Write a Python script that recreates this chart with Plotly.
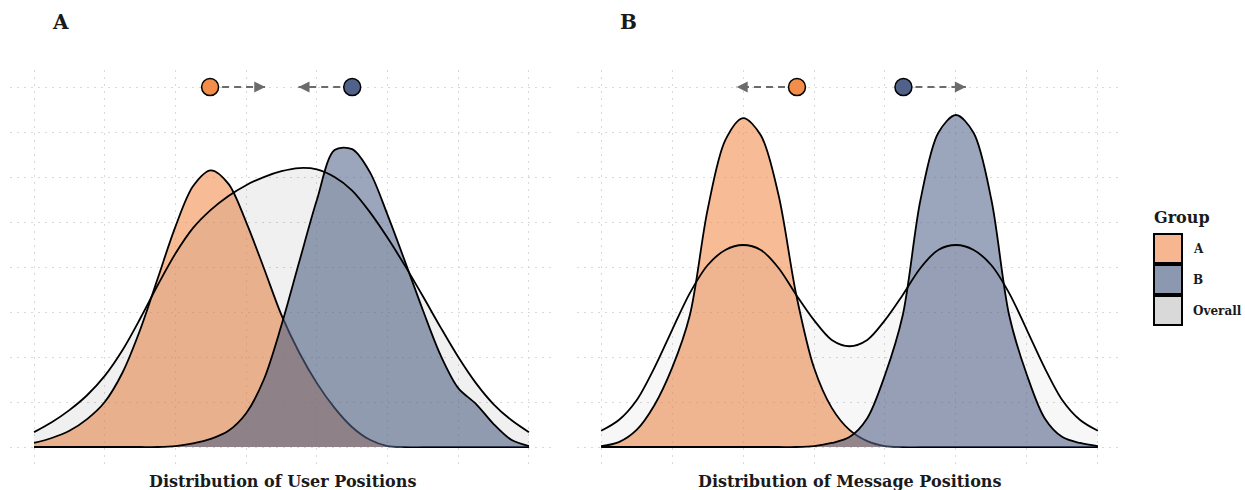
import plotly.graph_objects as go

# ---------------- data (grid units) ----------------
x_pos = [0.0, 0.25, 0.5, 0.75, 1.0, 1.25, 1.5, 1.75, 2.0, 2.25, 2.5, 2.75, 3.0, 3.25,
         3.5, 3.75, 4.0, 4.25, 4.5, 4.75, 5.0, 5.25, 5.5, 5.75, 6.0, 6.25, 6.5, 6.75, 7.0]

# Panel A: Distribution of User Positions
a_overall = [0.33, 0.55, 0.82, 1.15, 1.58, 2.15, 2.85, 3.6, 4.3, 4.87, 5.27, 5.58, 5.82, 6.0,
             6.13, 6.2, 6.17, 6.0, 5.7, 5.22, 4.65, 4.02, 3.35, 2.66, 2.0, 1.42, 0.95, 0.6, 0.33]
a_group_a = [0.09, 0.2, 0.36, 0.62, 1.0, 1.65, 2.6, 3.75, 4.9, 5.8, 6.15, 5.85, 5.0, 3.98,
             2.93, 2.1, 1.42, 0.87, 0.44, 0.16, 0.02, 0, 0, 0, 0, 0, 0, 0, 0]
a_group_b = [0, 0, 0, 0, 0, 0, 0, 0, 0.02, 0.08, 0.18, 0.36, 0.75, 1.5,
             2.71, 4.11, 5.49, 6.6, 6.62, 6.11, 5.16, 4.11, 3.04, 2.04, 1.31, 0.96, 0.51, 0.16, 0.02]

# Panel B: Distribution of Message Positions
b_overall = [0.36, 0.6, 1.04, 1.76, 2.6, 3.42, 4.04, 4.38, 4.49, 4.38, 3.98, 3.38, 2.82, 2.38,
             2.24, 2.38, 2.82, 3.38, 3.98, 4.38, 4.49, 4.38, 4.04, 3.42, 2.6, 1.76, 1.04, 0.6, 0.36]
b_group_a = [0.02, 0.11, 0.38, 0.93, 1.76, 2.93, 5.27, 6.82, 7.31, 6.93, 5.6, 3.38, 1.76, 0.87,
             0.38, 0.13, 0.02, 0, 0, 0, 0, 0, 0, 0, 0, 0, 0, 0, 0]
b_group_b = [0, 0, 0, 0, 0, 0, 0, 0, 0, 0, 0, 0, 0.02, 0.09,
             0.22, 0.64, 1.6, 2.93, 5.49, 6.98, 7.38, 6.98, 5.49, 2.93, 1.6, 0.64, 0.22, 0.09, 0.02]

# group means (circles) and shift direction (arrow tips)
marker_level = 8
a_means = {"A": 2.49, "B": 4.50}
a_targets = {"A": 3.27, "B": 3.74}
b_means = {"A": 2.76, "B": 4.26}
b_targets = {"A": 1.91, "B": 5.14}

x_ticks = [0, 1, 2, 3, 4, 5, 6, 7]
y_ticks = [0, 1, 2, 3, 4, 5, 6, 7, 8]

panel_titles = ["Distribution of User Positions", "Distribution of Message Positions"]
panel_letters = ["A", "B"]
legend_title = "Group"
legend_labels = ["A", "B", "Overall"]

# ---------------- styles ----------------
W, H = 1245, 490
ML, MR, MT, MB = 10, 123, 70, 25
PW, PH = W - ML - MR, H - MT - MB
FONT = "DejaVu Serif"
TXT = "#1a1a1a"

def fx(p):
    return (p - ML) / PW

def fy(p):
    return (H - MB - p) / PH

marker_col = {"A": "#F28E49", "B": "#506289"}
group_fill = {"A": "rgba(242,142,80,0.6)", "B": "rgba(89,105,142,0.6)"}
overall_fill = {"A": "rgba(0,0,0,0.06)", "B": "rgba(0,0,0,0.03)"}
legend_fill = ["#F6B68F", "#8C98AF", "#D9D9D9"]
arrow_col = "#6B6B6B"

fig = go.Figure()

panels = [
    ("A", "x", "y", a_overall, a_group_a, a_group_b, a_means, a_targets),
    ("B", "x2", "y2", b_overall, b_group_a, b_group_b, b_means, b_targets),
]

annotations = []
for key, xa, ya, ov, ga, gb, means, targets in panels:
    for name, vals, fc in (("A", ga, group_fill["A"]), ("B", gb, group_fill["B"]),
                           ("Overall", ov, overall_fill[key])):
        fig.add_trace(go.Scatter(
            x=x_pos, y=vals, xaxis=xa, yaxis=ya, mode="lines",
            fill="tozeroy", fillcolor=fc,
            line=dict(color="black", width=1.8, shape="spline", smoothing=0.9),
            showlegend=False, hoverinfo="skip"))
    for g in ("A", "B"):
        fig.add_trace(go.Scatter(
            x=[means[g], targets[g]], y=[marker_level, marker_level], xaxis=xa, yaxis=ya,
            mode="lines", line=dict(color=arrow_col, width=2, dash="7px,5px"),
            showlegend=False, hoverinfo="skip"))
        d = 0.14 if targets[g] > means[g] else -0.14
        annotations.append(dict(
            x=targets[g], y=marker_level, ax=targets[g] - d, ay=marker_level,
            xref=xa, yref=ya, axref=xa, ayref=ya, text="", showarrow=True,
            arrowhead=2, arrowsize=1.1, arrowwidth=2, arrowcolor=arrow_col, standoff=0))
    for g in ("A", "B"):
        fig.add_trace(go.Scatter(
            x=[means[g]], y=[marker_level], xaxis=xa, yaxis=ya, mode="markers",
            marker=dict(size=17, color=marker_col[g], line=dict(color="black", width=1.5)),
            showlegend=False, hoverinfo="skip"))

def txt(px, py, text, size, anchor="center"):
    return dict(x=fx(px), y=fy(py), xref="paper", yref="paper", text=f"<b>{text}</b>",
                xanchor=anchor, yanchor="middle", showarrow=False,
                font=dict(family=FONT, size=size, color=TXT))

annotations += [
    txt(282, 481, panel_titles[0], 16),
    txt(850, 481, panel_titles[1], 16),
    txt(60, 22, panel_letters[0], 20),
    txt(628, 22, panel_letters[1], 20),
    txt(1152, 217, legend_title, 16, "left"),
]

shapes = []
box_tops = [234, 265, 296]
for i, lab in enumerate(legend_labels):
    t = box_tops[i]
    shapes.append(dict(type="rect", xref="paper", yref="paper",
                       x0=fx(1154), x1=fx(1182), y0=fy(t + 29), y1=fy(t),
                       fillcolor=legend_fill[i], line=dict(color="black", width=2)))
    annotations.append(txt(1191, t + 15, lab, 12, "left"))

axis_common = dict(showticklabels=False, ticks="", showline=False, zeroline=False,
                   showgrid=True, gridcolor="#d9d9d9", gridwidth=1, griddash="2px,5px")
dA = [0, 543 / PW]
dB = [567 / PW, 1]
fig.update_layout(
    width=W, height=H,
    margin=dict(l=ML, r=MR, t=MT, b=MB),
    paper_bgcolor="white", plot_bgcolor="white",
    xaxis=dict(domain=dA, range=[-0.34, 7.34], tickvals=x_ticks, **axis_common),
    yaxis=dict(domain=[0, 1], range=[-0.4, 8.38], tickvals=y_ticks, **axis_common),
    xaxis2=dict(domain=dB, range=[-0.34, 7.34], tickvals=x_ticks, **axis_common),
    yaxis2=dict(domain=[0, 1], range=[-0.4, 8.38], tickvals=y_ticks, anchor="x2", **axis_common),
    annotations=annotations, shapes=shapes, showlegend=False,
    font=dict(family=FONT),
)
fig.write_html("out.html")
